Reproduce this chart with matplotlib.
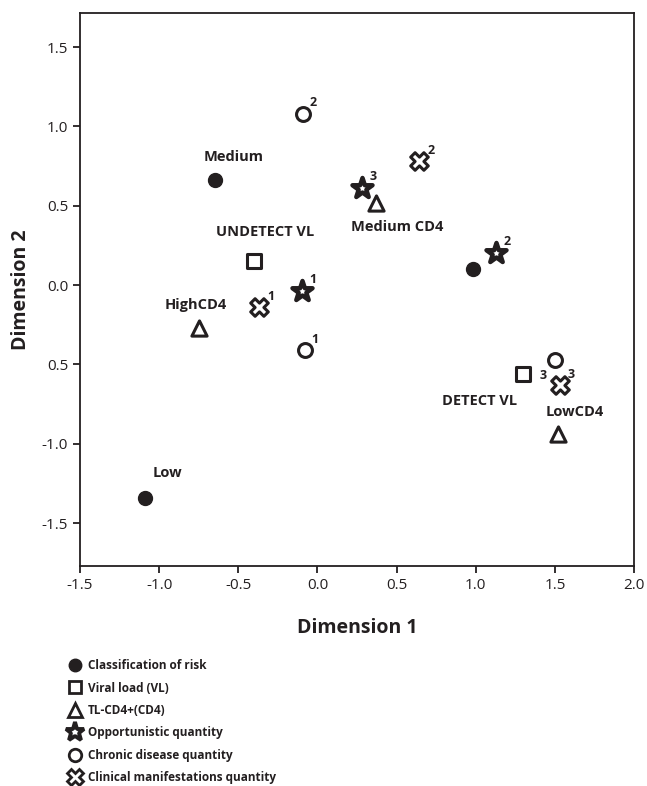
import matplotlib.pyplot as plt
from matplotlib.lines import Line2D

plt.rcParams['font.family'] = ['Open Sans', 'DejaVu Sans']

# Classification of risk
risk_names = ['Medium', '', 'Low']
risk_x = [-0.65, 0.98, -1.09]
risk_y = [0.66, 0.10, -1.34]

# Viral load
vl_names = ['UNDETECT VL', 'DETECT VL']
vl_x = [-0.40, 1.30]
vl_y = [0.15, -0.56]

# TL-CD4+
cd4_names = ['HighCD4', 'Medium CD4', 'LowCD4']
cd4_x = [-0.75, 0.37, 1.52]
cd4_y = [-0.27, 0.52, -0.94]

# Opportunistic quantity
opp_names = ['1', '3', '2']
opp_x = [-0.10, 0.28, 1.13]
opp_y = [-0.04, 0.61, 0.20]

# Chronic disease quantity
chr_names = ['2', '1', '3']
chr_x = [-0.09, -0.08, 1.50]
chr_y = [1.08, -0.41, -0.47]

# Clinical manifestations quantity
cli_names = ['1', '2', '3']
cli_x = [-0.37, 0.64, 1.53]
cli_y = [-0.14, 0.78, -0.63]

xticks = [-1.5, -1.0, -0.5, 0.0, 0.5, 1.0, 1.5, 2.0]
yticks = [1.5, 1.0, 0.5, 0.0, -0.5, -1.0, -1.5]
ytick_labels = ['1.5', '1.0', '0.5', '0.0', '0.5', '-1.0', '-1.5']

ink = '#231f20'

fig = plt.figure(figsize=(6.47, 7.86), dpi=100)
ax = fig.add_axes([0.1236, 0.2799, 0.8563, 0.7036])

ax.scatter(risk_x, risk_y, marker='o', s=100, c=ink, zorder=3)
ax.scatter(vl_x, vl_y, marker='s', s=100, facecolor='white', edgecolor=ink, linewidth=2.2, zorder=3)
ax.scatter(cd4_x, cd4_y, marker='^', s=120, facecolor='white', edgecolor=ink, linewidth=2.2, zorder=3)
ax.scatter(opp_x, opp_y, marker='*', s=230, facecolor='white', edgecolor=ink, linewidth=3.2, zorder=3)
ax.scatter(chr_x, chr_y, marker='o', s=100, facecolor='white', edgecolor=ink, linewidth=2.2, zorder=3)
ax.scatter(cli_x, cli_y, marker='X', s=160, facecolor='white', edgecolor=ink, linewidth=2.2, zorder=3)

lab = dict(textcoords='offset points', ha='center', va='center',
           fontsize=10.5, fontweight='bold', color=ink)
px = 0.72  # pixels to points at 100 dpi

# category labels, offsets in pixels (dx, up)
ax.annotate(risk_names[0], (risk_x[0], risk_y[0]), xytext=(19 * px, 23 * px), **lab)
ax.annotate(risk_names[2], (risk_x[2], risk_y[2]), xytext=(23 * px, 25 * px), **lab)
ax.annotate(vl_names[0], (vl_x[0], vl_y[0]), xytext=(11 * px, 29 * px), **lab)
ax.annotate(vl_names[1], (vl_x[1], vl_y[1]), xytext=(-44 * px, -27 * px), **lab)
ax.annotate(cd4_names[0], (cd4_x[0], cd4_y[0]), xytext=(-3 * px, 23 * px), **lab)
ax.annotate(cd4_names[1], (cd4_x[1], cd4_y[1]), xytext=(21 * px, -24 * px), **lab)
ax.annotate(cd4_names[2], (cd4_x[2], cd4_y[2]), xytext=(17 * px, 22 * px), **lab)

sup = dict(textcoords='offset points', ha='center', va='center',
           fontsize=9, fontweight='bold', color=ink)
for x, y, t in zip(opp_x, opp_y, opp_names):
    ax.annotate(t, (x, y), xytext=(11 * px, 12 * px), **sup)
for x, y, t in zip(chr_x[:2], chr_y[:2], chr_names[:2]):
    ax.annotate(t, (x, y), xytext=(10 * px, 11 * px), **sup)
ax.annotate(chr_names[2], (chr_x[2], chr_y[2]), xytext=(-12 * px, -16 * px), **sup)
for x, y, t in zip(cli_x, cli_y, cli_names):
    ax.annotate(t, (x, y), xytext=(12 * px, 11 * px), **sup)

ax.set_xlim(-1.5, 2.0)
ax.set_ylim(-1.77, 1.715)
ax.set_xticks(xticks)
ax.set_xticklabels([f'{v:.1f}' for v in xticks])
ax.set_yticks(yticks)
ax.set_yticklabels(ytick_labels)
ax.tick_params(direction='out', length=5, width=1.3, labelsize=11,
               colors=ink, top=False, right=False)
for s in ax.spines.values():
    s.set_linewidth(1.3)
    s.set_color(ink)

ax.set_xlabel('Dimension 1', fontsize=14, fontweight='bold', labelpad=18, color=ink)
ax.set_ylabel('Dimension 2', fontsize=14, fontweight='bold', labelpad=8, color=ink)

handles = [
    Line2D([], [], ls='none', marker='o', ms=9, color=ink, label='Classification of risk'),
    Line2D([], [], ls='none', marker='s', ms=9, mfc='white', mec=ink, mew=2, label='Viral load (VL)'),
    Line2D([], [], ls='none', marker='^', ms=10, mfc='white', mec=ink, mew=2, label='TL-CD4+(CD4)'),
    Line2D([], [], ls='none', marker='*', ms=14, mfc='white', mec=ink, mew=2.8, label='Opportunistic quantity'),
    Line2D([], [], ls='none', marker='o', ms=9, mfc='white', mec=ink, mew=2, label='Chronic disease quantity'),
    Line2D([], [], ls='none', marker='X', ms=11, mfc='white', mec=ink, mew=2, label='Clinical manifestations quantity'),
]
fig.legend(handles=handles, loc='upper left', bbox_to_anchor=(0.098, 0.169), frameon=False,
           prop={'size': 8.5, 'weight': 'bold'}, handlelength=1.0, handletextpad=0.6,
           labelspacing=0.8, borderpad=0, labelcolor=ink)

fig.savefig('out.png', dpi=100)
